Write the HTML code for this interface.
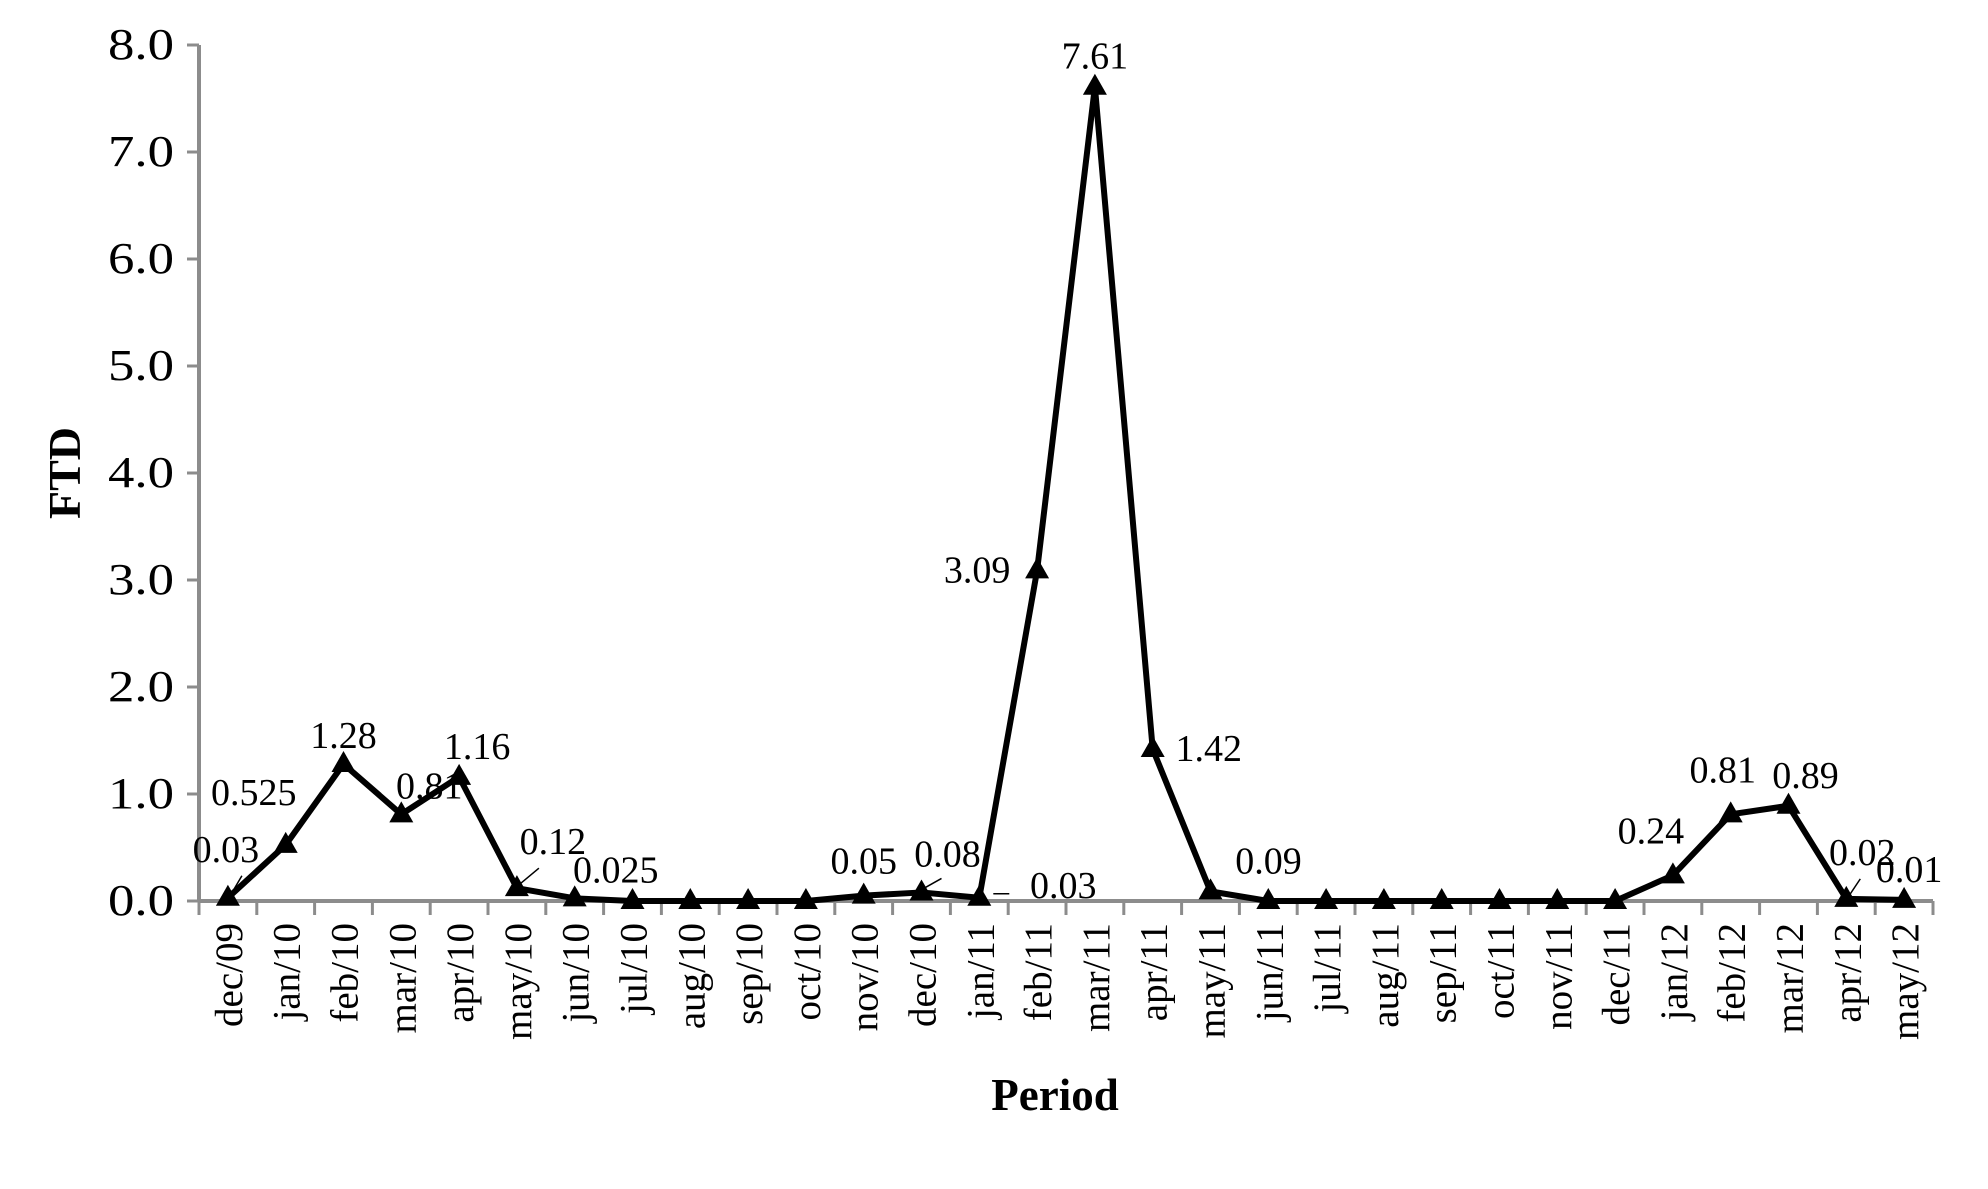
<!DOCTYPE html>
<html><head><meta charset="utf-8"><style>
body{margin:0;background:#fff}
svg{display:block;font-family:"Liberation Serif",serif}
</style></head><body>
<svg width="1988" height="1189">
<g id="axes"></g><g id="series"></g><g id="labels"></g>
<text x="1055" y="1110" font-size="45" font-weight="bold" text-anchor="middle">Period</text>
<text transform="translate(80,473) rotate(-90)" font-size="46" font-weight="bold" text-anchor="middle">FTD</text>
</svg>
<script>
const categories=["dec/09","jan/10","feb/10","mar/10","apr/10","may/10","jun/10","jul/10","aug/10","sep/10","oct/10","nov/10","dec/10","jan/11","feb/11","mar/11","apr/11","may/11","jun/11","jul/11","aug/11","sep/11","oct/11","nov/11","dec/11","jan/12","feb/12","mar/12","apr/12","may/12"];
const values=[0.03,0.525,1.28,0.81,1.16,0.12,0.025,0,0,0,0,0.05,0.08,0.03,3.09,7.61,1.42,0.09,0,0,0,0,0,0,0,0.24,0.81,0.89,0.02,0.01];
const valueLabels=["0.03","0.525","1.28","0.81","1.16","0.12","0.025","","","","","0.05","0.08","0.03","3.09","7.61","1.42","0.09","","","","","","","","0.24","0.81","0.89","0.02","0.01"];
const yTicks=[0,1,2,3,4,5,6,7,8];
const NS="http://www.w3.org/2000/svg";
const X0=199,X1=1933,Y0=901,Y8=45;
const bw=(X1-X0)/categories.length;
const xs=i=>X0+bw*(i+0.5);
const ys=v=>Y0-(Y0-Y8)*v/8;
function mk(tag,attrs,parent){const e=document.createElementNS(NS,tag);for(const k in attrs)e.setAttribute(k,attrs[k]);parent.appendChild(e);return e;}
const ax=document.getElementById('axes'),se=document.getElementById('series'),lb=document.getElementById('labels');
let a=mk('line',{x1:X0,y1:Y8,x2:X0,y2:Y0,stroke:'#8c8c8c','stroke-width':4},ax);


a=mk('line',{x1:X0,y1:Y0,x2:X1,y2:Y0,stroke:'#8c8c8c','stroke-width':4},ax);


yTicks.forEach(v=>{
 mk('line',{x1:X0-12,y1:ys(v),x2:X0,y2:ys(v),stroke:'#8c8c8c','stroke-width':3},ax);
 const t=mk('text',{x:X0-25,y:ys(v)+14,'font-size':44,'text-anchor':'end',textLength:66,lengthAdjust:'spacingAndGlyphs'},ax);
 t.textContent=v.toFixed(1);
 
 
});
for(let i=0;i<=categories.length;i++){mk('line',{x1:X0+bw*i,y1:Y0,x2:X0+bw*i,y2:Y0+14,stroke:'#8c8c8c','stroke-width':3},ax);}
categories.forEach((c,i)=>{
 const t=mk('text',{transform:`translate(${xs(i)+14},${Y0+22}) rotate(-90)`,'font-size':39,'text-anchor':'end'},ax);
 t.textContent=c;
 
 
});
const pl=mk('polyline',{points:values.map((v,i)=>xs(i)+','+ys(v)).join(' '),fill:'none',stroke:'#000','stroke-width':6,'stroke-linejoin':'round'},se);


values.forEach((v,i)=>{
 const x=xs(i),y=ys(v);
 const m=mk('polygon',{points:`${x},${y-13} ${x-12},${y+8} ${x+12},${y+8}`,fill:'#000'},se);
 
 
});
const off={0:[-2,-36],1:[-32,-40],2:[0,-16],3:[28,-16],4:[18,-18],5:[36,-34],6:[41,-16],11:[0,-22],12:[26,-26],13:[84,0],14:[-60,12],15:[0,-18],16:[56,12],17:[58,-18],25:[-22,-32],26:[-8,-32],27:[17,-18],28:[16,-34],29:[5,-18]};
values.forEach((v,i)=>{
 if(!valueLabels[i])return;
 const o=off[i]||[0,-20];
 const t=mk('text',{x:xs(i)+o[0],y:ys(v)+o[1],'font-size':38,'text-anchor':'middle'},lb);
 t.textContent=valueLabels[i];
 
 
});
[[0,[4,-5],[14,-22]],[12,[4,-5],[20,-14]],[13,[14,-4],[30,-4]],[28,[4,-5],[14,-20]],[5,[4,-5],[22,-20]]].forEach(([i,p1,p2])=>{
 mk('line',{x1:xs(i)+p1[0],y1:ys(values[i])+p1[1],x2:xs(i)+p2[0],y2:ys(values[i])+p2[1],stroke:'#000','stroke-width':1.5},lb);
});
</script>
</body></html>
